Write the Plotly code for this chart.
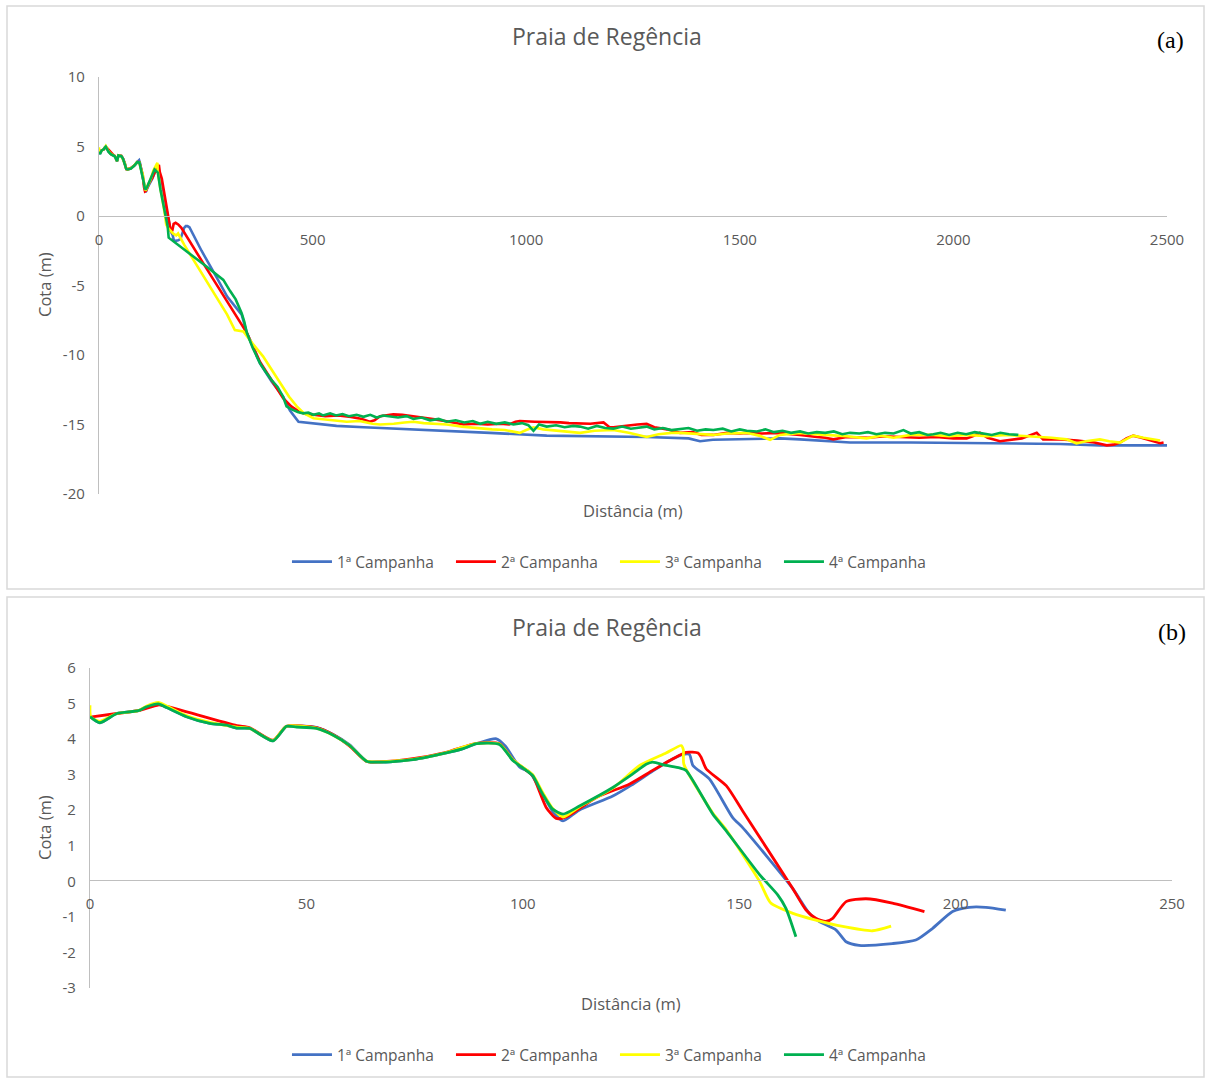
import plotly.graph_objects as go

W, H = 1207, 1079

SERIES = ["1ª Campanha", "2ª Campanha", "3ª Campanha", "4ª Campanha"]
COLORS = ["#4472C4", "#FF0000", "#FFFF00", "#00B050"]

# ---- Beach profiles (near-shore section, distance in m, elevation in m) ----
c1_x = [0, 2.3, 6.2, 11.2, 13.1, 15.8, 17.7, 22.3, 27.7, 31.6, 33.9, 36.9, 42.3, 45.4, 47.7, 52.3, 56.2, 60.0,
        63.9, 66.9, 74.6, 82.3, 86.2, 89.3, 93.9, 96.0, 99.3, 101.6, 104.6, 107.0, 109.3, 113.0, 120.8, 125.0,
        130.0, 134.6, 137.0, 138.5, 139.3, 143.1, 148.5, 150.8, 162.3, 166.2, 168.5, 172.4, 174.7, 177.7,
        185.4, 190.8, 194.7, 199.3, 203.1, 207.0, 211.6]
c1_y = [4.63, 4.46, 4.72, 4.80, 4.91, 4.99, 4.89, 4.63, 4.44, 4.39, 4.31, 4.30, 3.95, 4.36, 4.37, 4.33, 4.13, 3.84,
        3.38, 3.35, 3.42, 3.61, 3.73, 3.87, 4.01, 3.80, 3.21, 3.07, 2.45, 1.95, 1.70, 2.00, 2.40, 2.70,
        3.10, 3.44, 3.57, 3.57, 3.26, 2.88, 1.79, 1.51, -0.19, -0.90, -1.13, -1.37, -1.70, -1.80,
        -1.75, -1.65, -1.32, -0.85, -0.73, -0.73, -0.81]

c2_x = [0, 6.2, 11.2, 15.8, 17.7, 33.9, 36.9, 42.3, 45.4, 52.3, 56.2, 60.0, 63.9, 66.9, 74.6, 82.3, 89.3, 94.6,
        97.7, 100.8, 102.3, 105.4, 107.7, 110.0, 117.0, 124.7, 130.0, 134.6, 137.7, 140.5, 141.2, 142.4, 147.0,
        150.8, 162.3, 165.4, 167.7, 170.0, 171.6, 174.7, 179.3, 185.4, 192.8]
c2_y = [4.62, 4.72, 4.80, 4.96, 4.92, 4.38, 4.32, 3.97, 4.36, 4.32, 4.12, 3.80, 3.37, 3.36, 3.45, 3.63, 3.88, 3.87,
        3.42, 3.12, 2.97, 2.08, 1.77, 1.81, 2.36, 2.74, 3.12, 3.44, 3.63, 3.61, 3.49, 3.16, 2.69,
        1.98, -0.19, -0.80, -1.04, -1.13, -1.04, -0.57, -0.49, -0.61, -0.85]

c3_x = [0, 0.2, 2.3, 6.2, 11.2, 13.1, 15.8, 17.7, 22.3, 27.7, 33.9, 36.9, 42.3, 45.4, 52.3, 56.2, 60.0, 63.9, 66.9,
        74.6, 82.3, 89.3, 94.6, 97.7, 100.8, 102.3, 104.6, 106.9, 109.3, 113.1, 120.8, 127.0, 133.1, 136.6,
        137.1, 137.2, 143.9, 147.0, 154.7, 157.3, 162.4, 167.7, 173.9, 180.8, 185.1]
c3_y = [4.95, 4.62, 4.50, 4.72, 4.80, 4.93, 5.03, 4.93, 4.66, 4.47, 4.34, 4.30, 3.96, 4.36, 4.31, 4.11, 3.82, 3.38, 3.36,
        3.43, 3.62, 3.88, 3.86, 3.42, 3.14, 3.00, 2.50, 2.05, 1.81, 2.10, 2.62, 3.26, 3.61, 3.82,
        3.70, 3.30, 1.92, 1.45, 0.00, -0.61, -0.90, -1.09, -1.27, -1.39, -1.26]

c4_x = [0, 2.3, 6.2, 11.2, 13.1, 15.8, 17.7, 22.3, 27.7, 31.6, 33.9, 36.9, 42.3, 45.4, 47.7, 52.3, 56.2, 60.0,
        63.9, 66.9, 74.6, 82.3, 86.2, 89.3, 94.6, 97.7, 100.8, 102.3, 104.6, 106.9, 109.3, 113.1, 120.8, 125.4,
        128.5, 130.0, 133.1, 136.2, 137.7, 143.9, 147.0, 154.7, 158.9, 160.8, 163.1]
c4_y = [4.63, 4.46, 4.72, 4.80, 4.91, 4.99, 4.89, 4.63, 4.44, 4.39, 4.31, 4.30, 3.95, 4.36, 4.34, 4.30, 4.11, 3.82,
        3.38, 3.35, 3.42, 3.61, 3.73, 3.87, 3.85, 3.40, 3.12, 2.97, 2.45, 2.03, 1.89, 2.12, 2.64, 3.02,
        3.29, 3.35, 3.26, 3.19, 3.12, 1.89, 1.42, 0.19, -0.38, -0.76, -1.56]

# ---- Offshore continuation of each profile (distance in m, elevation in m) ----
o1_x = [240, 275, 300, 334, 346, 377, 404, 431, 447, 467, 510, 556, 620, 736, 830, 915, 1048, 1160, 1282, 1380,
        1407, 1437, 1500, 1594, 1641, 1758, 1900, 2109, 2250, 2343, 2503]
o1_y = [-2.5, -4.4, -5.8, -7.1, -8.4, -10.6, -11.9, -13.0, -14.0, -14.8, -14.95, -15.1, -15.2, -15.35, -15.45, -15.6,
        -15.8, -15.85, -15.9, -16.0, -16.2, -16.1, -16.05, -16.0, -16.07, -16.3, -16.3, -16.35, -16.4, -16.5, -16.5]

o2_x = [250, 300, 346, 377, 404, 431, 450, 470, 490, 502, 530, 560, 590, 615, 634, 645, 658, 689, 710, 736, 760,
        790, 820, 853, 880, 910, 940, 960, 975, 985, 1020, 1048, 1080, 1100, 1126, 1150, 1181, 1195, 1204, 1230,
        1260, 1282, 1300, 1330, 1360, 1390, 1410, 1438, 1470, 1500, 1516, 1550, 1594, 1620, 1641, 1680, 1700,
        1719, 1750, 1800, 1840, 1875, 1920, 1960, 2000, 2031, 2045, 2062, 2080, 2109, 2130, 2160, 2195, 2205,
        2210, 2250, 2290, 2330, 2359, 2375, 2390, 2405, 2421, 2440, 2453, 2470, 2484, 2492]
o2_y = [-3.7, -6.1, -8.4, -10.5, -11.8, -13.1, -13.7, -14.1, -14.3, -14.3, -14.4, -14.35, -14.45, -14.6, -14.8,
        -14.7, -14.4, -14.27, -14.3, -14.4, -14.5, -14.65, -14.8, -15.0, -14.95, -15.0, -14.95, -15.0, -14.8,
        -14.75, -14.8, -14.8, -14.85, -14.9, -14.9, -14.95, -14.85, -15.2, -15.2, -15.1, -15.0, -14.96, -15.2,
        -15.35, -15.6, -15.55, -15.75, -15.75, -15.6, -15.65, -15.6, -15.65, -15.6, -15.7, -15.75, -15.9,
        -15.95, -16.07, -15.9, -15.95, -15.85, -15.9, -15.95, -15.9, -16.0, -16.0, -15.85, -15.6, -15.95,
        -16.2, -16.1, -16.0, -15.6, -15.9, -16.07, -16.07, -16.15, -16.3, -16.5, -16.45, -16.3, -16.0, -15.8,
        -15.95, -16.07, -16.25, -16.35, -16.3]

o3_x = [200, 250, 300, 318, 338, 360, 384, 405, 424, 445, 463, 480, 502, 540, 580, 610, 640, 658, 690, 715, 736,
        760, 790, 814, 850, 892, 920, 950, 970, 985, 1000, 1017, 1040, 1070, 1100, 1126, 1160, 1204, 1240, 1265,
        1282, 1310, 1340, 1360, 1400, 1438, 1470, 1500, 1516, 1545, 1571, 1594, 1641, 1700, 1750, 1797, 1830,
        1860, 1900, 1953, 1990, 2031, 2080, 2125, 2160, 2187, 2230, 2265, 2288, 2310, 2343, 2365, 2390, 2405,
        2421, 2445, 2468, 2484]
o3_y = [-2.1, -4.6, -7.1, -8.2, -8.3, -9.2, -10.1, -11.1, -12.0, -13.0, -13.7, -14.2, -14.55, -14.65, -14.8,
        -14.75, -14.95, -15.0, -14.95, -14.85, -14.8, -14.9, -14.95, -15.0, -15.15, -15.3, -15.35, -15.4, -15.5,
        -15.6, -15.4, -15.2, -15.35, -15.45, -15.5, -15.6, -15.45, -15.4, -15.6, -15.8, -15.9, -15.7, -15.6,
        -15.6, -15.7, -15.75, -15.65, -15.6, -15.6, -15.8, -16.1, -15.75, -15.6, -15.75, -15.85, -16.0, -15.8,
        -15.95, -15.75, -15.75, -15.85, -15.75, -15.85, -15.75, -15.8, -15.85, -15.95, -16.07, -16.35, -16.2,
        -16.07, -16.2, -16.3, -16.05, -15.8, -15.95, -16.1, -16.15]

o4_x = [200, 250, 291, 300, 307, 320, 334, 340, 346, 360, 377, 390, 404, 418, 431, 439, 450, 465, 478, 490, 502,
        515, 524, 541, 555, 570, 585, 603, 619, 635, 650, 665, 681, 700, 720, 736, 755, 775, 795, 814, 835, 855,
        875, 892, 910, 930, 950, 970, 990, 1005, 1017, 1030, 1048, 1070, 1090, 1110, 1126, 1145, 1165, 1185,
        1204, 1225, 1245, 1265, 1282, 1300, 1320, 1340, 1360, 1380, 1400, 1420, 1438, 1460, 1480, 1500, 1516,
        1540, 1560, 1580, 1600, 1620, 1641, 1660, 1680, 1700, 1720, 1740, 1758, 1780, 1800, 1820, 1840, 1860,
        1883, 1900, 1920, 1940, 1953, 1970, 1990, 2010, 2030, 2050, 2070, 2090, 2110, 2130, 2152]
o4_y = [-2.4, -3.6, -4.6, -5.1, -5.4, -6.0, -7.0, -7.6, -8.4, -9.5, -10.6, -11.2, -11.8, -12.3, -13.0, -13.7, -13.9,
        -14.1, -14.2, -14.15, -14.3, -14.2, -14.35, -14.2, -14.35, -14.25, -14.4, -14.3, -14.45, -14.3, -14.5,
        -14.35, -14.4, -14.5, -14.4, -14.6, -14.5, -14.7, -14.6, -14.8, -14.7, -14.85, -14.75, -14.95, -14.8,
        -14.95, -14.85, -15.0, -14.9, -15.05, -15.45, -15.0, -15.15, -15.05, -15.2, -15.1, -15.15, -15.3,
        -15.1, -15.25, -15.3, -15.15, -15.3, -15.2, -15.15, -15.35, -15.25, -15.4, -15.35, -15.25, -15.45,
        -15.35, -15.4, -15.3, -15.5, -15.35, -15.45, -15.5, -15.35, -15.55, -15.45, -15.6, -15.5, -15.65,
        -15.55, -15.6, -15.5, -15.7, -15.6, -15.65, -15.55, -15.7, -15.6, -15.65, -15.4, -15.65, -15.55,
        -15.75, -15.7, -15.6, -15.75, -15.6, -15.7, -15.55, -15.65, -15.75, -15.6, -15.7, -15.75]

# ---- Tick labels (plain hyphen minus) ----
xa_ticks = [0, 500, 1000, 1500, 2000, 2500]
ya_ticks = [-20, -15, -10, -5, 0, 5, 10]
xb_ticks = [0, 50, 100, 150, 200, 250]
yb_ticks = [-3, -2, -1, 0, 1, 2, 3, 4, 5, 6]

near = [(c1_x, c1_y), (c2_x, c2_y), (c3_x, c3_y), (c4_x, c4_y)]
far = [(o1_x, o1_y), (o2_x, o2_y), (o3_x, o3_y), (o4_x, o4_y)]

TEXT = "#595959"
AXIS = "#BFBFBF"
FONT = "Open Sans"


def px(x):
    return x / W


def py(y):
    return 1 - y / H


def labels(vals):
    return [str(v) for v in vals]


fig = go.Figure()

# (a) full profile: near-shore + offshore
for name, color, (nx, ny), (fx, fy) in zip(SERIES, COLORS, near, far):
    fig.add_trace(go.Scatter(x=nx + fx, y=ny + fy, mode="lines", name=name,
                             line=dict(color=color, width=2.6), xaxis="x", yaxis="y",
                             legend="legend"))

# (b) near-shore detail, smoothed
for name, color, (nx, ny) in zip(SERIES, COLORS, near):
    fig.add_trace(go.Scatter(x=nx, y=ny, mode="lines", name=name,
                             line=dict(color=color, width=2.8, shape="spline", smoothing=0.6),
                             xaxis="x2", yaxis="y2", legend="legend2"))

axis_common = dict(showgrid=False, zeroline=False, showline=True, linecolor=AXIS, linewidth=1.3,
                   ticks="", automargin=False, tickfont=dict(family=FONT, size=15, color=TEXT))

legend_common = dict(orientation="h", x=0.5095, xanchor="center", yanchor="middle",
                     font=dict(family=FONT, size=15.5, color=TEXT), entrywidth=109, itemwidth=40,
                     bgcolor="rgba(0,0,0,0)", tracegroupgap=0)

fig.update_layout(
    width=W, height=H,
    margin=dict(l=0, r=0, t=0, b=0, autoexpand=False),
    paper_bgcolor="white", plot_bgcolor="white",
    font=dict(family=FONT, color=TEXT),
    xaxis=dict(axis_common, domain=[px(99), px(1167)], range=[0, 2500], tickvals=xa_ticks,
               ticktext=labels(xa_ticks), anchor="free", position=py(216), ticklabelstandoff=10),
    yaxis=dict(axis_common, domain=[py(494), py(77)], range=[-20, 10], tickvals=ya_ticks,
               ticktext=labels(ya_ticks), anchor="x", ticklabelstandoff=10),
    xaxis2=dict(axis_common, domain=[px(90), px(1172)], range=[0, 250], tickvals=xb_ticks,
                ticktext=labels(xb_ticks), anchor="free", position=py(880), ticklabelstandoff=10),
    yaxis2=dict(axis_common, domain=[py(988), py(668)], range=[-3, 6], tickvals=yb_ticks,
                ticktext=labels(yb_ticks), anchor="x2", ticklabelstandoff=10),
    legend=dict(legend_common, y=py(562)),
    legend2=dict(legend_common, y=py(1055)),
    shapes=[
        dict(type="rect", xref="paper", yref="paper", x0=px(7), x1=px(1204), y0=py(589), y1=py(6),
             line=dict(color="#D9D9D9", width=1.5), layer="below"),
        dict(type="rect", xref="paper", yref="paper", x0=px(7), x1=px(1204), y0=py(1077), y1=py(597),
             line=dict(color="#D9D9D9", width=1.5), layer="below"),
    ],
)

annotations = []


def note(text, x, y, size, family=FONT, color=TEXT, angle=0):
    annotations.append(dict(text=text, x=px(x), y=py(y), xref="paper", yref="paper", showarrow=False,
                            xanchor="center", yanchor="middle", textangle=angle,
                            font=dict(family=family, size=size, color=color)))


for title_y, tag, tag_x, tag_y, cota_y, dist_x, dist_y in [
        (36, "(a)", 1170, 40, 285, 633, 510),
        (627, "(b)", 1172, 632, 828, 631, 1003)]:
    note("Praia de Regência", 607, title_y, 23)
    note(tag, tag_x, tag_y, 24, family="Liberation Serif", color="#000000")
    note("Cota (m)", 44, cota_y, 16.5, angle=-90)
    note("Distância (m)", dist_x, dist_y, 16.5)

fig.update_layout(annotations=annotations)

fig.write_html("out.html")
